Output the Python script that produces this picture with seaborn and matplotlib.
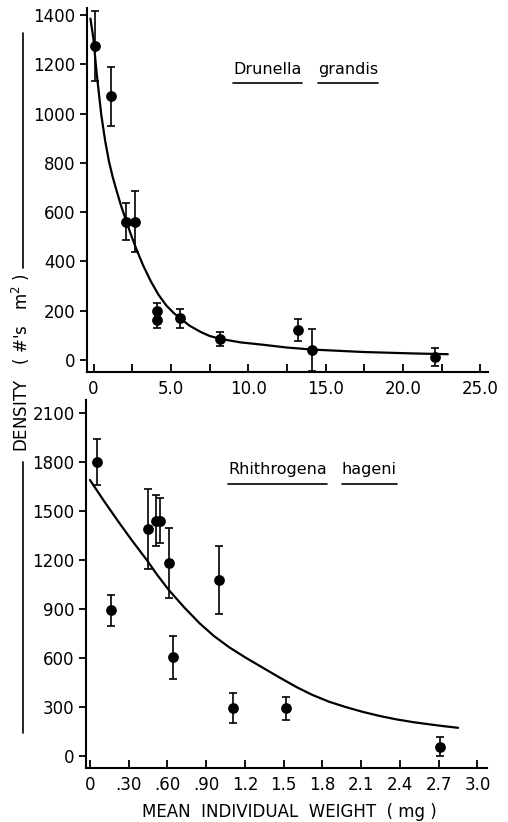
import numpy as np
import pandas as pd
import seaborn as sns
from matplotlib import pyplot as plt
from matplotlib.lines import Line2D
from matplotlib.ticker import FixedLocator

# Drunella grandis: mean individual weight (mg), density (#'s m2), error
drunella_w = [0.1, 1.1, 2.1, 2.7, 4.1, 4.1, 5.6, 8.2, 13.2, 14.1, 22.1]
drunella_d = [1275, 1070, 561, 561, 200, 162, 169, 85, 122, 41, 13]
drunella_err = [142, 120, 75, 124, 33, 33, 40, 27, 45, 85, 38]
# fitted curve
drunella_fit_w = [-0.2, 0.0, 0.2, 0.5, 0.75, 1.0, 1.25, 1.5, 1.75, 2.0, 2.4, 2.8, 3.2, 3.7,
                  4.2, 4.7, 5.2, 5.6, 6.2, 6.9, 7.5, 8.2, 9.5, 11.0, 12.5, 14.1, 17.4, 20.7, 22.9]
drunella_fit_d = [1385, 1300, 1165, 995, 890, 805, 740, 685, 632, 585, 512, 445, 385, 320,
                  265, 222, 190, 170, 140, 115, 98, 86, 72, 62, 51, 43, 33, 27, 24]

# Rhithrogena hageni
rhith_w = [0.056, 0.16, 0.45, 0.51, 0.54, 0.61, 0.64, 1.0, 1.11, 1.52, 2.71]
rhith_d = [1800, 894, 1388, 1441, 1441, 1180, 604, 1078, 296, 292, 57]
rhith_err = [140, 95, 245, 155, 137, 215, 133, 210, 93, 71, 59]
rhith_fit_w = [0.0, 0.11, 0.22, 0.33, 0.44, 0.52, 0.61, 0.73, 0.85, 0.96, 1.08, 1.2, 1.34,
               1.47, 1.60, 1.72, 1.85, 1.98, 2.11, 2.24, 2.37, 2.5, 2.63, 2.74, 2.85]
rhith_fit_d = [1690, 1560, 1435, 1315, 1200, 1110, 1017, 910, 812, 735, 665, 605, 540,
               480, 422, 375, 333, 300, 271, 246, 225, 208, 194, 183, 173]

top_xticks = [0, 5, 10, 15, 20, 25]
top_xlabels = ['0', '5.0', '10.0', '15.0', '20.0', '25.0']
top_xminor = [2.5, 7.5, 12.5, 17.5, 22.5]
top_yticks = [0, 200, 400, 600, 800, 1000, 1200, 1400]
bot_xticks = [0, 0.3, 0.6, 0.9, 1.2, 1.5, 1.8, 2.1, 2.4, 2.7, 3.0]
bot_xlabels = ['0', '.30', '.60', '.90', '1.2', '1.5', '1.8', '2.1', '2.4', '2.7', '3.0']
bot_yticks = [0, 300, 600, 900, 1200, 1500, 1800, 2100]

sns.set_style('ticks')
plt.rcParams['font.family'] = ['DejaVu Sans']
plt.rcParams['text.color'] = 'black'

fig = plt.figure(figsize=(5.08, 8.22), dpi=100)
ax1 = fig.add_axes([0.1707, 0.5478, 0.790, 0.4425])
ax2 = fig.add_axes([0.1687, 0.0663, 0.789, 0.4471])


def panel(ax, w, d, err, fw, fd):
    ax.errorbar(w, d, yerr=err, fmt='none', ecolor='black', elinewidth=1.2,
                capsize=3, capthick=1.2, zorder=2)
    sns.scatterplot(x=w, y=d, ax=ax, color='black', s=60, edgecolor='black',
                    linewidth=0, zorder=3)
    fit = pd.DataFrame({'w': fw, 'd': fd})
    sns.lineplot(data=fit, x='w', y='d', ax=ax, color='black', lw=1.6,
                 sort=False, estimator=None, zorder=2)
    ax.set_xlabel('')
    ax.set_ylabel('')
    sns.despine(ax=ax)
    for s in ['left', 'bottom']:
        ax.spines[s].set_linewidth(1.5)
        ax.spines[s].set_color('black')
    ax.tick_params(axis='x', which='both', direction='in', length=6, width=1.3,
                   labelsize=12, pad=6, colors='black')
    ax.tick_params(axis='y', direction='out', length=5, width=1.3,
                   labelsize=12, pad=3, colors='black')


panel(ax1, drunella_w, drunella_d, drunella_err, drunella_fit_w, drunella_fit_d)
ax1.set_xlim(-0.44, 25.5)
ax1.set_ylim(-47, 1428)
ax1.set_xticks(top_xticks, labels=top_xlabels)
ax1.xaxis.set_minor_locator(FixedLocator(top_xminor))
ax1.set_yticks(top_yticks)

panel(ax2, rhith_w, rhith_d, rhith_err, rhith_fit_w, rhith_fit_d)
ax2.set_xlim(-0.033, 3.07)
ax2.set_ylim(-70, 2180)
ax2.set_xticks(bot_xticks, labels=bot_xlabels)
ax2.set_yticks(bot_yticks)

fig.canvas.draw()
renderer = fig.canvas.get_renderer()


def underlined(ax, x, y, word, uy):
    t = ax.text(x, y, word, transform=ax.transAxes, fontsize=11.5,
                va='center', ha='left', color='black')
    bb = t.get_window_extent(renderer).transformed(ax.transAxes.inverted())
    ax.add_line(Line2D([bb.x0, bb.x1], [uy, uy], transform=ax.transAxes,
                       color='black', lw=1.2))


underlined(ax1, 0.365, 0.83, 'Drunella', 0.794)
underlined(ax1, 0.577, 0.83, 'grandis', 0.794)
underlined(ax2, 0.355, 0.81, 'Rhithrogena', 0.771)
underlined(ax2, 0.639, 0.81, 'hageni', 0.771)

fig.text(0.569, 0.0125, 'MEAN  INDIVIDUAL  WEIGHT  ( mg )', ha='center',
         va='center', fontsize=12)
fig.text(0.042, 0.559, "DENSITY   ( #'s   m$^{2}$ )", rotation=90, ha='center',
         va='center', fontsize=12)
fig.add_artist(Line2D([0.0447, 0.0447], [0.674, 0.96], color='black', lw=1.2))
fig.add_artist(Line2D([0.0447, 0.0447], [0.108, 0.438], color='black', lw=1.2))

plt.savefig('out.png', dpi=100)
